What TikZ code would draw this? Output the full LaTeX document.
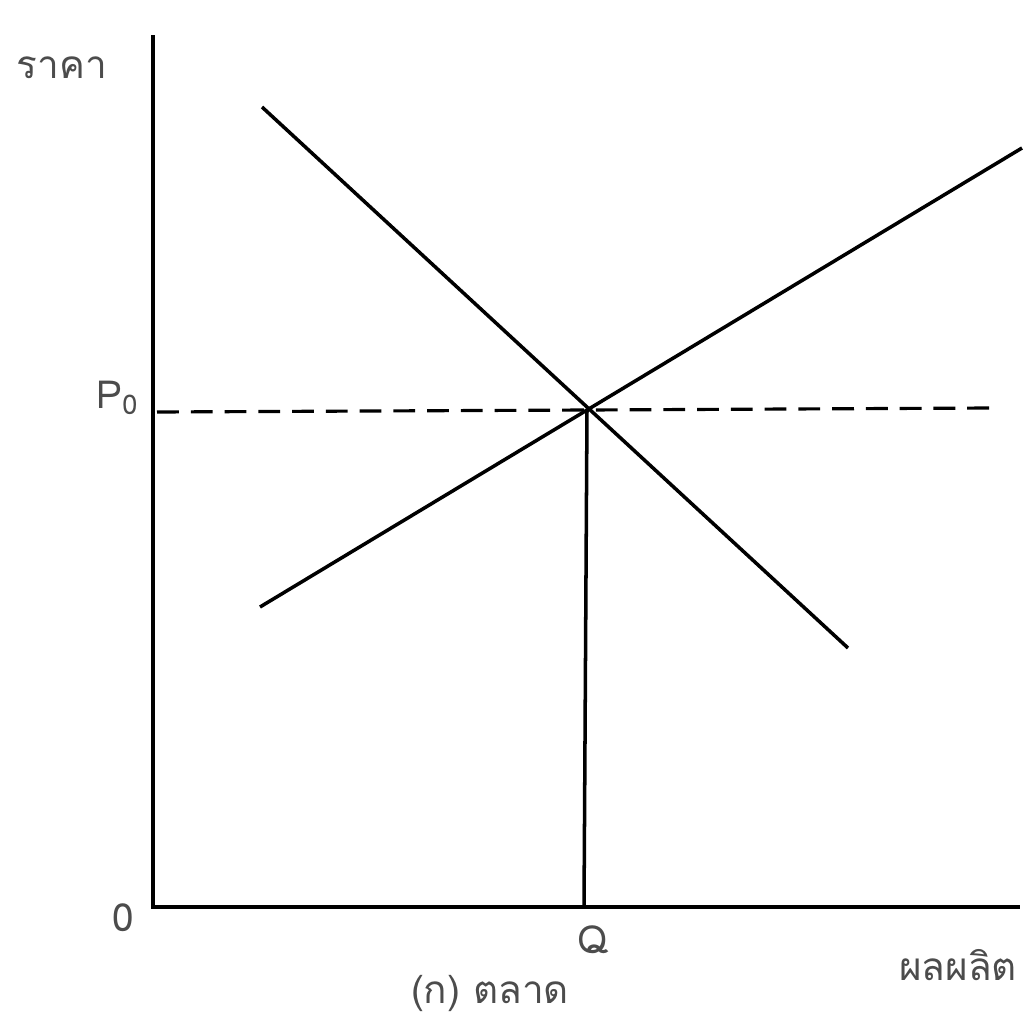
\documentclass[tikz,border=0pt]{standalone}
\usepackage{fontspec}
\newfontfamily\thaifont[Script=Thai]{Loma}
\usetikzlibrary{positioning}

\begin{document}
\begin{tikzpicture}[x=0.01cm,y=-0.01cm,
  curve/.style={line width=1pt},
  lbl/.style={font=\thaifont\fontsize{11}{13}\selectfont, text=black!70, inner sep=0pt}]

\useasboundingbox (0,0) rectangle (1027,1018);

% axes
\coordinate (top) at (153,35);
\coordinate (O) at (153,907);
\coordinate (right) at (1020,907);
\draw[curve] (top) -- (O) -- (right);

% demand and supply
\coordinate (d1) at (262,107);
\coordinate (d2) at (848,648);
\coordinate (s1) at (260,607);
\coordinate (s2) at (1022,148);
\draw[curve] (d1) -- (d2); % D
\draw[curve] (s1) -- (s2); % S

\coordinate (E) at (587,410);
\coordinate (Pleft) at (157,412);
\coordinate (Pright) at (990,408);
\coordinate (Qbase) at (584,907);

\draw[curve, dash pattern=on 6.2pt off 3.4pt, line width=0.9pt] (Pleft) -- (E) -- (Pright);
\draw[curve] (E) -- (Qbase);

\node[lbl] (price) at (62,68) {ราคา};
\node[lbl] (p0) at (118,398) {P\textsubscript{0}};
\node[lbl] (zero) at (123,918) {0};
\node[lbl] (q) at (593,940) {Q};
\node[lbl] (output) at (958,965) {ผลผลิต};
\node[lbl] (caption) at (490,993) {(ก) ตลาด};

\end{tikzpicture}
\end{document}
